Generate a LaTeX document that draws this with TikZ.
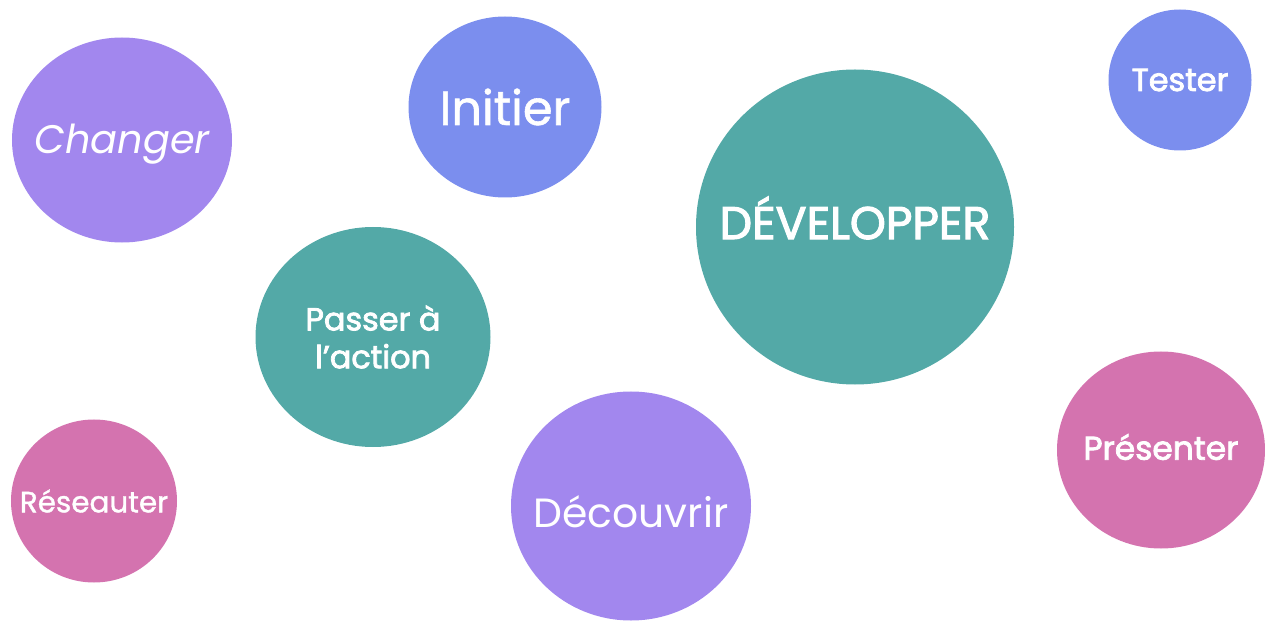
\documentclass[tikz,border=0pt]{standalone}
\usepackage{fontspec}
\setmainfont{Poppins}
\newfontfamily\medfont[FakeBold=1.2]{Poppins}
\newfontfamily\semifont[FakeBold=2.4]{Poppins}
\definecolor{bubblepurple}{RGB}{162,135,238}
\definecolor{bubbleblue}{RGB}{123,142,238}
\definecolor{bubbleteal}{RGB}{83,169,167}
\definecolor{bubblepink}{RGB}{212,115,175}
\usetikzlibrary{shapes.geometric}

\begin{document}
\begin{tikzpicture}[
    x=1bp, y=-1bp,
    bubble/.style={ellipse, inner sep=0pt, draw=none},
    purplebubble/.style={bubble, fill=bubblepurple},
    bluebubble/.style={bubble, fill=bubbleblue},
    tealbubble/.style={bubble, fill=bubbleteal},
    pinkbubble/.style={bubble, fill=bubblepink},
    word/.style={text=white, align=center, inner sep=0pt}
]
    \useasboundingbox (0,0) rectangle (1265,621);

    % Left column
    \node[purplebubble, minimum width=220bp, minimum height=205bp] (changer) at (122,140) {};
    \node[word, font=\fontsize{40}{46}\selectfont\itshape] (changertext) at ([yshift=-4bp]changer) {Changer};
    \node[pinkbubble, minimum width=166bp, minimum height=163bp] (reseauter) at (94,501) {};
    \node[word, font=\fontsize{29.5}{34}\selectfont\medfont] (reseautertext) at (reseauter) {Réseauter};

    % Middle
    \node[bluebubble, minimum width=193bp, minimum height=181bp] (initier) at (505,107) {};
    \node[word, font=\fontsize{48}{54}\selectfont\medfont] (initiertext) at (initier) {Initier};
    \node[tealbubble, minimum width=235bp, minimum height=220bp] (action) at (373,337) {};
    \node[word, font=\fontsize{32}{38}\selectfont\semifont] (actiontext) at (action) {Passer à\\l’action};
    \node[purplebubble, minimum width=240bp, minimum height=229bp] (decouvrir) at (631,506) {};
    \node[word, font=\fontsize{41}{46}\selectfont] (decouvrirtext) at ([yshift=-6bp]decouvrir) {Découvrir};

    % Right
    \node[tealbubble, minimum width=318bp, minimum height=315bp] (developper) at (855,227) {};
    \node[word, font=\fontsize{46}{50}\selectfont\semifont] (developpertext) at ([yshift=9bp]developper) {DÉVELOPPER};
    \node[bluebubble, minimum width=143bp, minimum height=141bp] (tester) at (1180,80) {};
    \node[word, font=\fontsize{32}{38}\selectfont\semifont] (testertext) at (tester) {Tester};
    \node[pinkbubble, minimum width=208bp, minimum height=197bp] (presenter) at (1161,450) {};
    \node[word, font=\fontsize{33}{38}\selectfont\semifont] (presentertext) at ([yshift=3bp]presenter) {Présenter};

\end{tikzpicture}
\end{document}
